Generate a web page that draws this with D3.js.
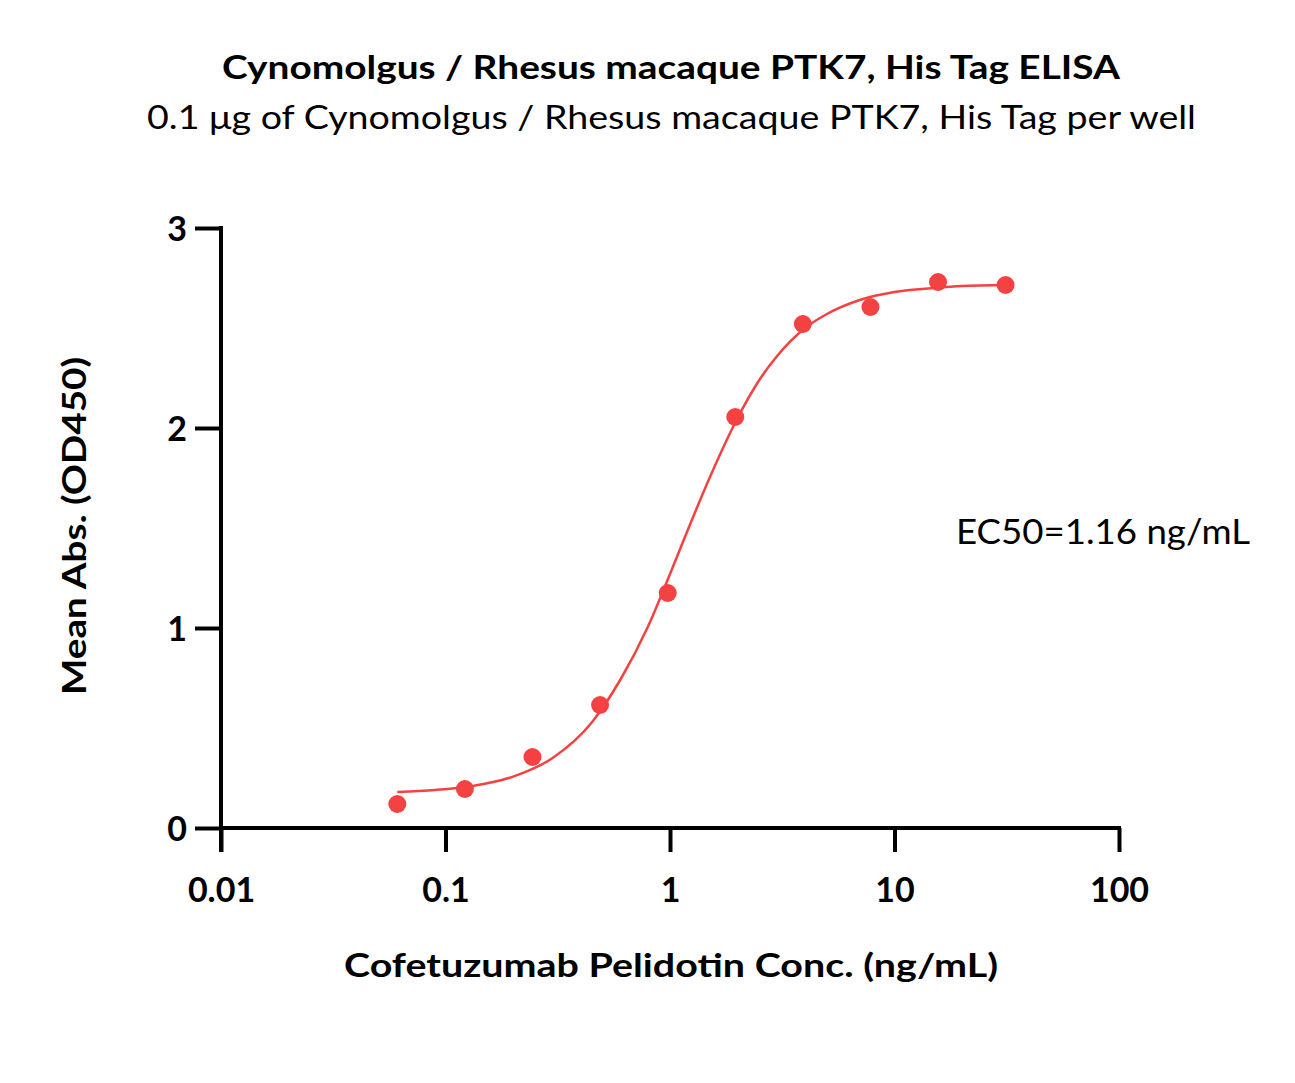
<!DOCTYPE html>
<html><head><meta charset="utf-8">
<script src="https://cdn.jsdelivr.net/npm/d3@7"></script>
<style>body{margin:0;background:#fff}svg{display:block}text{font-family:Lato,"Open Sans",sans-serif}</style>
</head><body><svg id="c" width="1295" height="1083"></svg>
<script>
const concentrations = [0.061, 0.122, 0.244, 0.488, 0.977, 1.953, 3.906, 7.813, 15.625, 31.25];
const meanAbs = [0.12, 0.195, 0.355, 0.615, 1.175, 2.055, 2.52, 2.605, 2.73, 2.715];
const fitX = [0.061, 0.09, 0.13, 0.2, 0.3, 0.45, 0.6, 0.8, 1.0, 1.2, 1.5, 2, 2.5, 3, 4, 5, 7, 10, 15, 20, 31.25];
const fitY = [0.18, 0.19, 0.209, 0.257, 0.35, 0.53, 0.74, 1.01, 1.27, 1.49, 1.75, 2.05, 2.24, 2.36, 2.5, 2.57, 2.64, 2.68, 2.7, 2.71, 2.715];
const xTicks = [0.01, 0.1, 1, 10, 100];
const xTickLabels = ["0.01", "0.1", "1", "10", "100"];
const yTicks = [0, 1, 2, 3];
const title = "Cynomolgus / Rhesus macaque PTK7, His Tag ELISA";
const subtitle = "0.1 \u03bcg of Cynomolgus / Rhesus macaque PTK7, His Tag per well";
const xLabel = "Cofetuzumab Pelidotin Conc. (ng/mL)";
const yLabel = "Mean Abs. (OD450)";
const annotation = "EC50=1.16 ng/mL";

const svg = d3.select("#c");
const red = "#F44242";
const x = d3.scaleLog().domain([0.01, 100]).range([221, 1119]);
const y = d3.scaleLinear().domain([0, 3]).range([828, 228]);

// axes
const xAxis = d3.axisBottom(x).tickValues(xTicks).tickFormat((d,i)=>xTickLabels[i]).tickSize(24).tickSizeOuter(0).tickPadding(0);
const gx = svg.append("g").attr("transform","translate(0,828)").call(xAxis);
gx.select(".domain").attr("stroke","#000").attr("stroke-width",4).attr("d","M219,0H1121");
gx.selectAll(".tick line").attr("stroke","#000").attr("stroke-width",4);
gx.selectAll(".tick text").attr("fill","#000").attr("y",74).attr("dy",null).style("font-size","34px").style("font-weight","bold");

const yAxis = d3.axisLeft(y).tickValues(yTicks).tickFormat(d3.format("d")).tickSize(26).tickSizeOuter(0).tickPadding(8);
const gy = svg.append("g").attr("transform","translate(221,0)").call(yAxis);
gy.select(".domain").attr("stroke","#000").attr("stroke-width",4).attr("d","M0,226V852");
gy.selectAll(".tick line").attr("stroke","#000").attr("stroke-width",4);
gy.selectAll(".tick text").attr("fill","#000").attr("x",-34).style("font-size","34px").style("font-weight","bold").attr("dy","0.36em");
svg.selectAll(".domain").attr("fill","none");

// fit curve
const line = d3.line().x(d=>x(d)).y((d,i)=>y(fitY[i])).curve(d3.curveMonotoneX);
svg.append("path").attr("d", line(fitX)).attr("fill","none").attr("stroke",red).attr("stroke-width",2.5);

// points
svg.append("g").selectAll("circle").data(concentrations).join("circle")
  .attr("cx", d=>x(d)).attr("cy",(d,i)=>y(meanAbs[i])).attr("r",9).attr("fill",red);

// texts
function txt(s, opts){
  const t = svg.append("text").text(s).style("font-size",opts.size+"px").attr("fill","#000");
  if (opts.bold) t.style("font-weight","bold");
  if (opts.anchor) t.attr("text-anchor",opts.anchor);
  if (opts.transform) t.attr("transform",opts.transform); else t.attr("x",opts.x).attr("y",opts.y);
  if (opts.len) t.attr("textLength",opts.len).attr("lengthAdjust","spacingAndGlyphs");
  return t;
}
txt(title,{x:671,y:79,size:32,bold:true,anchor:"middle",len:898});
txt(subtitle,{x:671.5,y:129,size:33,anchor:"middle",len:1049});
txt(xLabel,{x:671,y:977,size:33,bold:true,anchor:"middle",len:654});
txt(yLabel,{transform:"translate(86,526) rotate(-90)",size:33,bold:true,anchor:"middle",len:338});
txt(annotation,{x:956,y:544,size:35,len:294});
</script></body></html>
